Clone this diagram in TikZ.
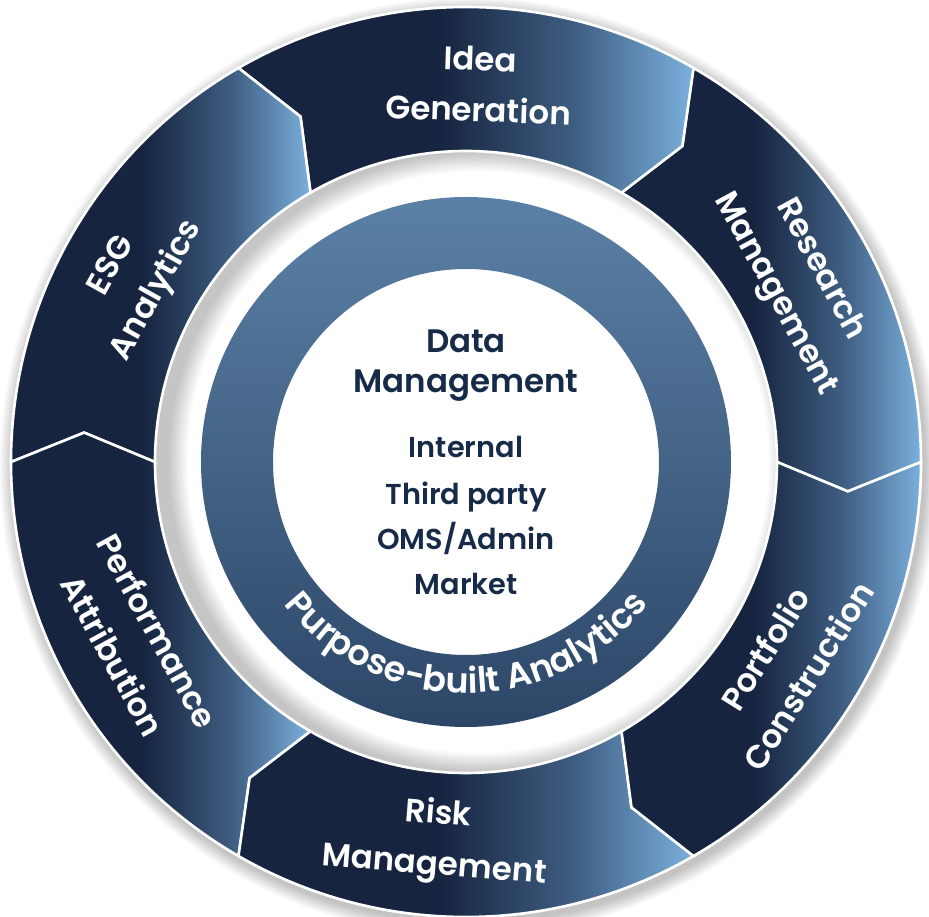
\documentclass[tikz,border=0pt]{standalone}
\usepackage{fontspec}
\setmainfont{Poppins}
\newfontfamily\popsemi{Poppins SemiBold}
\newfontfamily\popmed{Poppins Medium}
\usetikzlibrary{decorations.text}
\definecolor{segdark}{HTML}{16243F}
\definecolor{segmid}{HTML}{3F5E82}
\definecolor{seglight}{HTML}{7BB0DD}
\definecolor{ringtop}{HTML}{5B80A6}
\definecolor{ringbot}{HTML}{2C4667}
\definecolor{navytext}{HTML}{172B49}
\pgfdeclarehorizontalshading{segshade}{100bp}{color(0bp)=(segdark); color(25bp)=(segdark); color(47bp)=(segdark); color(62bp)=(segmid); color(75bp)=(seglight); color(100bp)=(seglight)}
\tikzset{
  seg/.style={shading=segshade, draw=white, line width=2.6pt, line join=miter},
  seglabel/.style={text=white, font=\popsemi\fontsize{32.5}{51}\selectfont, align=center, inner sep=0pt},
  ctitle/.style={text=navytext, font=\popsemi\fontsize{32.5}{40}\selectfont, anchor=base, inner sep=0pt},
  citem/.style={text=navytext, font=\popsemi\fontsize{28.8}{34}\selectfont, anchor=base, inner sep=0pt}
}
\begin{document}
\begin{tikzpicture}[x=1pt,y=1pt]
\useasboundingbox (-466pt,-455pt) rectangle (463pt,462pt);
\fill[white] (-466pt,-455pt) rectangle (463pt,462pt);
% outer drop shadow
\foreach \i in {1,...,12} {
  \pgfmathsetmacro\rr{455+1.2*\i}
  \fill[black, opacity=0.018] (3pt,-5pt) circle (\rr pt);
}
\fill[white] (0,0) circle (456pt);
% shadow in the gap
\begin{scope}
  \clip (0,0) circle (311pt);
  \foreach \i in {1,...,10} {
    \pgfmathsetmacro\rr{311-2*\i}
    \fill[black, opacity=0.024, even odd rule] (0,0) circle (311pt) (12pt,0pt) circle (\rr pt);
  }
\end{scope}
% inner ring
\shade[top color=ringtop, bottom color=ringbot, even odd rule] (0,0) circle (265pt) (0,0) circle (193pt);
% outer segments (clockwise arrows)
\foreach \a in {60,120,180,240,300,360} {
  \pgfmathsetmacro\b{\a-60}
  \pgfmathsetmacro\ap{\a-4.4}
  \pgfmathsetmacro\bp{\b-4.4}
  \shadedraw[seg] (\a:455pt) arc[start angle=\a, end angle=\b, radius=455pt]
    -- (\bp:383pt) -- (\b:311pt)
    arc[start angle=\b, end angle=\a, radius=311pt]
    -- (\ap:383pt) -- cycle;
}
% segment labels
\node[seglabel, rotate=-2] (idea) at (88:378pt) {Idea\\Generation};
\node[seglabel, rotate=-61.5] (research) at (28.5:377pt) {Research\\Management};
\node[seglabel, rotate=58] (portfolio) at (-32:378pt) {Portfolio\\Construction};
\node[seglabel, rotate=-4.5] (risk) at (265.5:380pt) {Risk\\Management};
\node[seglabel, rotate=-61.3] (perf) at (208.7:377pt) {Performance\\Attribution};
\node[seglabel, rotate=61] (esg) at (151:378pt) {ESG\\Analytics};
% inner ring curved text
\path[decorate, decoration={text along path, text color=white, text align=center,
  text={|\popsemi\fontsize{35}{35}\selectfont|Purpose-built Analytics}}]
  (200:231pt) arc[start angle=200, end angle=340, radius=231pt];
% centre text
\node[ctitle] (data) at (0pt,109pt) {Data};
\node[ctitle] (dm) at (0pt,69pt) {Management};
\node[citem] (internal) at (0pt,4pt) {Internal};
\node[citem] (third) at (0pt,-43pt) {Third party};
\node[citem] (oms) at (0pt,-88pt) {OMS/Admin};
\node[citem] (market) at (0pt,-133pt) {Market};
\end{tikzpicture}
\end{document}
